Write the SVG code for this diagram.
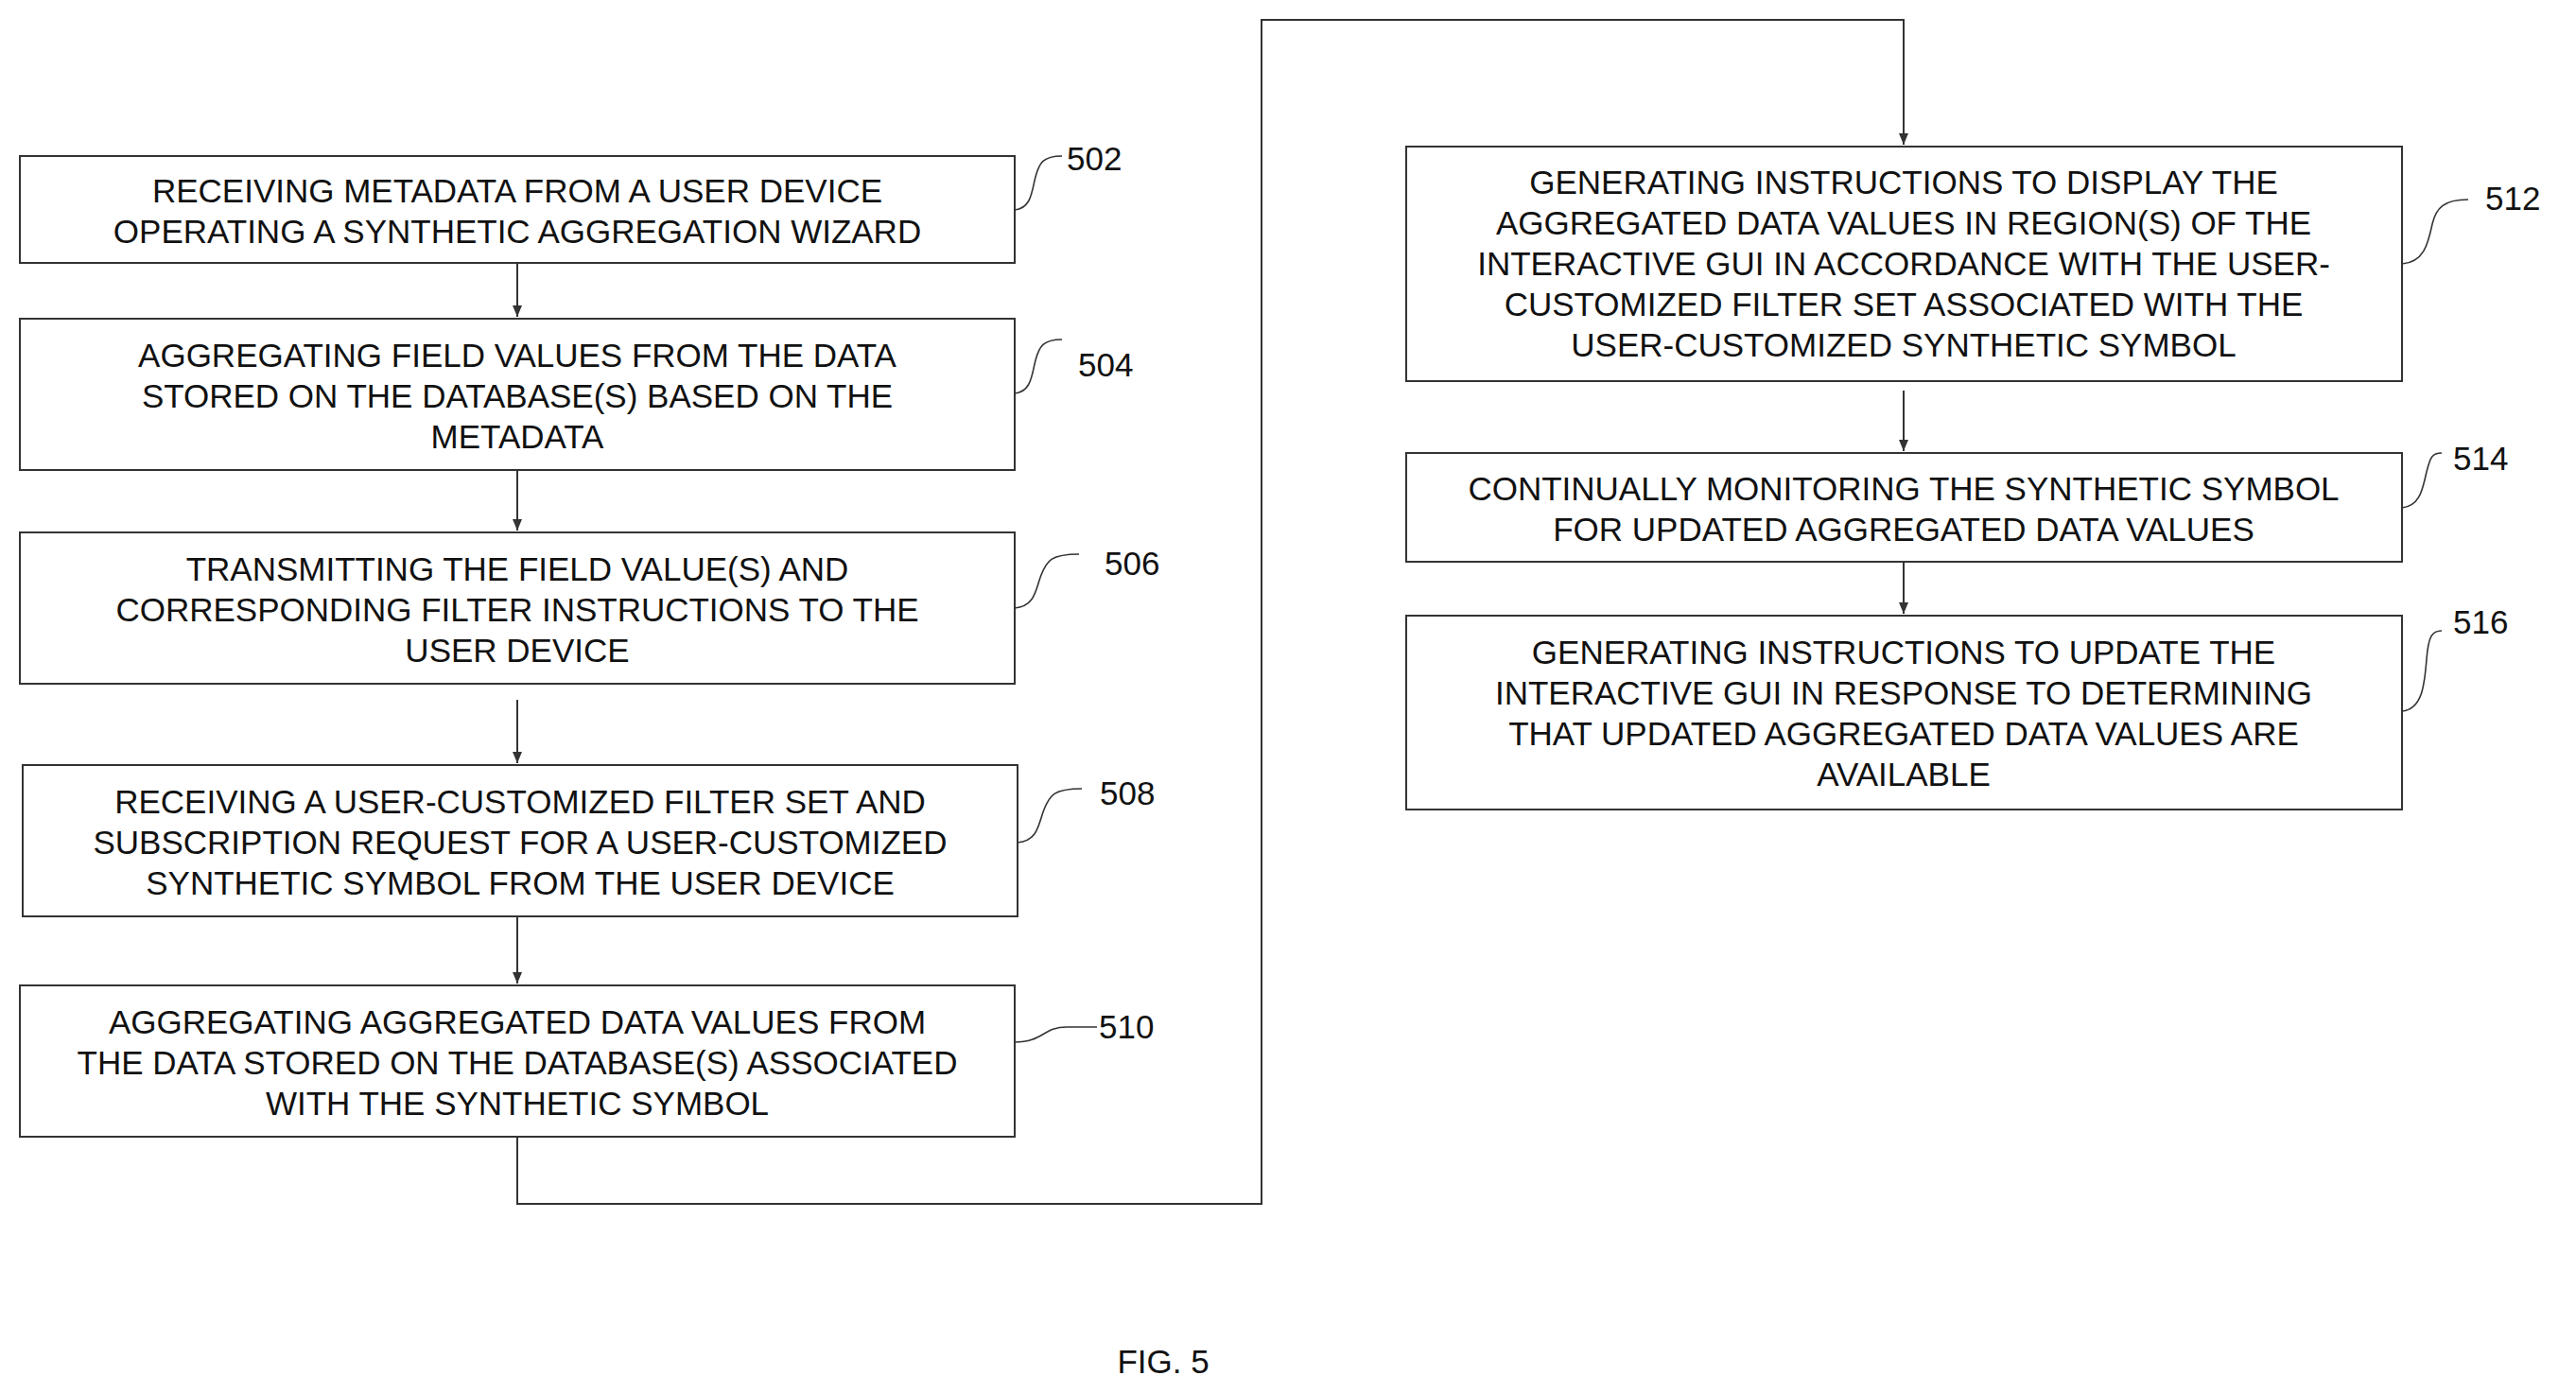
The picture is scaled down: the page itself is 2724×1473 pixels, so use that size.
<svg xmlns="http://www.w3.org/2000/svg" width="2724" height="1473" viewBox="0 0 2724 1473">
<style>
.b{fill:#fff;stroke:#333;stroke-width:2}
.t{font-family:"Liberation Sans",Arial,sans-serif;font-size:35px;fill:#111;text-anchor:middle}
.n{font-family:"Liberation Sans",Arial,sans-serif;font-size:35px;fill:#111}
.c{fill:none;stroke:#333;stroke-width:2}
.l{fill:none;stroke:#333;stroke-width:1.6}
</style>
<defs><marker id="a" markerWidth="14" markerHeight="14" refX="12" refY="7" orient="auto" markerUnits="userSpaceOnUse"><path d="M0,2 L12,7 L0,12 z" fill="#333"/></marker></defs>
<rect width="2724" height="1473" fill="#fff"/>
<g id="connectors">
<path class="c" d="M547,278 V335" marker-end="url(#a)"/>
<path class="c" d="M547,497 V561" marker-end="url(#a)"/>
<path class="c" d="M547,740 V807" marker-end="url(#a)"/>
<path class="c" d="M547,969 V1040" marker-end="url(#a)"/>
<path class="c" d="M547,1202 V1273 H1334 V21 H2013 V153" marker-end="url(#a)"/>
<path class="c" d="M2013,413 V477" marker-end="url(#a)"/>
<path class="c" d="M2013,594 V649" marker-end="url(#a)"/>
</g>
<g id="n502"><rect class="b" x="21" y="165" width="1052" height="113"/>
<text class="t" x="547" y="214">RECEIVING METADATA FROM A USER DEVICE</text>
<text class="t" x="547" y="257">OPERATING A SYNTHETIC AGGREGATION WIZARD</text>
<path class="l" d="M1073,222 c18,-2 18,-20 22,-35 s8,-22 28,-22"/><text class="n" x="1128" y="180">502</text></g>
<g id="n504"><rect class="b" x="21" y="337" width="1052" height="160"/>
<text class="t" x="547" y="388">AGGREGATING FIELD VALUES FROM THE DATA</text>
<text class="t" x="547" y="431">STORED ON THE DATABASE(S) BASED ON THE</text>
<text class="t" x="547" y="474">METADATA</text>
<path class="l" d="M1073,416 c18,-2 18,-20 22,-35 s8,-22 28,-22"/><text class="n" x="1140" y="398">504</text></g>
<g id="n506"><rect class="b" x="21" y="563" width="1052" height="160"/>
<text class="t" x="547" y="614">TRANSMITTING THE FIELD VALUE(S) AND</text>
<text class="t" x="547" y="657">CORRESPONDING FILTER INSTRUCTIONS TO THE</text>
<text class="t" x="547" y="700">USER DEVICE</text>
<path class="l" d="M1073,643 c22,-2 22,-20 28,-35 s10,-22 40,-22"/><text class="n" x="1168" y="608">506</text></g>
<g id="n508"><rect class="b" x="24" y="809" width="1052" height="160"/>
<text class="t" x="550" y="860">RECEIVING A USER-CUSTOMIZED FILTER SET AND</text>
<text class="t" x="550" y="903">SUBSCRIPTION REQUEST FOR A USER-CUSTOMIZED</text>
<text class="t" x="550" y="946">SYNTHETIC SYMBOL FROM THE USER DEVICE</text>
<path class="l" d="M1076,891 c22,-2 22,-20 28,-35 s10,-22 40,-22"/><text class="n" x="1163" y="851">508</text></g>
<g id="n510"><rect class="b" x="21" y="1042" width="1052" height="160"/>
<text class="t" x="547" y="1093">AGGREGATING AGGREGATED DATA VALUES FROM</text>
<text class="t" x="547" y="1136">THE DATA STORED ON THE DATABASE(S) ASSOCIATED</text>
<text class="t" x="547" y="1179">WITH THE SYNTHETIC SYMBOL</text>
<path class="l" d="M1073,1102 c30,0 30,-16 55,-16 h32"/><text class="n" x="1162" y="1098">510</text></g>
<g id="n512"><rect class="b" x="1487" y="155" width="1053" height="248"/>
<text class="t" x="2013" y="205">GENERATING INSTRUCTIONS TO DISPLAY THE</text>
<text class="t" x="2013" y="248">AGGREGATED DATA VALUES IN REGION(S) OF THE</text>
<text class="t" x="2013" y="291">INTERACTIVE GUI IN ACCORDANCE WITH THE USER-</text>
<text class="t" x="2013" y="334">CUSTOMIZED FILTER SET ASSOCIATED WITH THE</text>
<text class="t" x="2013" y="377">USER-CUSTOMIZED SYNTHETIC SYMBOL</text>
<path class="l" d="M2540,279 c25,-2 28,-25 32,-42 s12,-26 38,-26"/><text class="n" x="2628" y="222">512</text></g>
<g id="n514"><rect class="b" x="1487" y="479" width="1053" height="115"/>
<text class="t" x="2013" y="529">CONTINUALLY MONITORING THE SYNTHETIC SYMBOL</text>
<text class="t" x="2013" y="572">FOR UPDATED AGGREGATED DATA VALUES</text>
<path class="l" d="M2540,537 c20,-2 22,-22 26,-38 s6,-20 16,-20"/><text class="n" x="2594" y="497">514</text></g>
<g id="n516"><rect class="b" x="1487" y="651" width="1053" height="205"/>
<text class="t" x="2013" y="702">GENERATING INSTRUCTIONS TO UPDATE THE</text>
<text class="t" x="2013" y="745">INTERACTIVE GUI IN RESPONSE TO DETERMINING</text>
<text class="t" x="2013" y="788">THAT UPDATED AGGREGATED DATA VALUES ARE</text>
<text class="t" x="2013" y="831">AVAILABLE</text>
<path class="l" d="M2540,752 c22,-2 24,-30 26,-55 s6,-30 16,-30"/><text class="n" x="2594" y="670">516</text></g>
<text class="t" x="1230" y="1452">FIG. 5</text>
</svg>
